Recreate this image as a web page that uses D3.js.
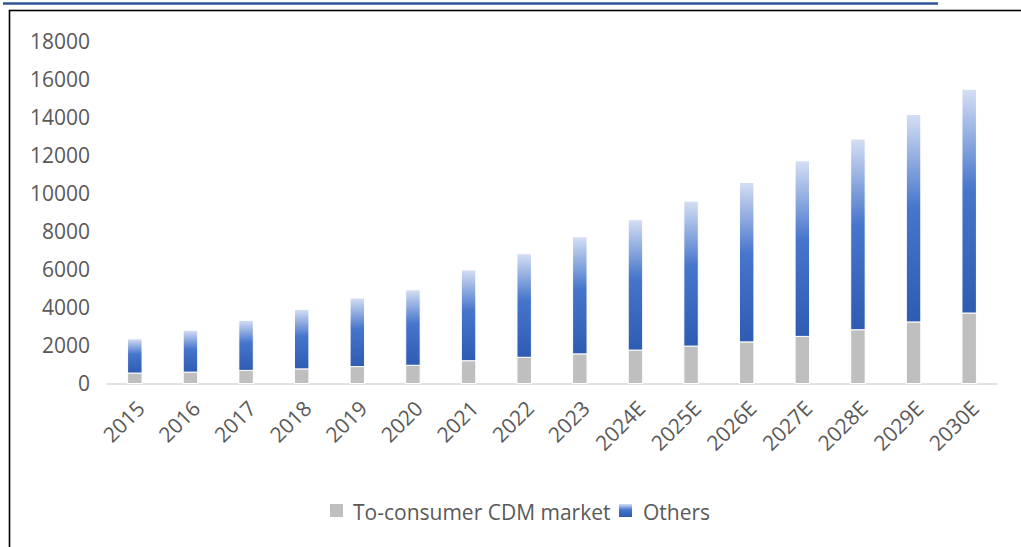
<!DOCTYPE html>
<html><head><meta charset="utf-8">
<script src="https://cdn.jsdelivr.net/npm/d3@7"></script>
<style>body{margin:0;background:#fff}svg{display:block}text{font-family:"Open Sans",Lato,sans-serif;fill:#595959}</style>
</head><body><svg id="c" width="1021" height="547"></svg>
<script>
const categories=["2015","2016","2017","2018","2019","2020","2021","2022","2023","2024E","2025E","2026E","2027E","2028E","2029E","2030E"];
const consumer=[550,600,690,770,890,960,1200,1380,1560,1760,1970,2190,2480,2830,3240,3710];
const totals=[2350,2800,3330,3900,4500,4930,5980,6830,7720,8620,9600,10580,11720,12870,14160,15490];
const others=totals.map((t,i)=>t-consumer[i]);
const yTicks=[0,2000,4000,6000,8000,10000,12000,14000,16000,18000];
const seriesNames=["To-consumer CDM market","Others"];

const svg=d3.select("#c");
const defs=svg.append("defs");
const g=defs.append("linearGradient").attr("id","blueGrad").attr("x1",0).attr("y1",0).attr("x2",0).attr("y2",1);
g.append("stop").attr("offset","0%").attr("stop-color","#d5dff3");
g.append("stop").attr("offset","45%").attr("stop-color","#4675cc");
g.append("stop").attr("offset","100%").attr("stop-color","#2f5cb3");

// title underline & frame
svg.append("line").attr("x1",3).attr("x2",938).attr("y1",3.5).attr("y2",3.5).attr("stroke","#2f5597").attr("stroke-width",2.5);
svg.append("rect").attr("x",9.5).attr("y",10.5).attr("width",1100).attr("height",700).attr("fill","none").attr("stroke","#000").attr("stroke-width",1.6);

const x=d3.scaleBand().domain(categories).range([107,997]).padding(0);
const y=d3.scaleLinear().domain([0,18000]).range([383.5,41.5]);
const bw=x.bandwidth()*0.26;
const fs=21;

// y labels
svg.append("g").selectAll("text").data(yTicks).join("text")
 .attr("x",90).attr("y",d=>y(d)).attr("dy","0.36em").attr("text-anchor","end")
 .attr("font-size",fs).text(d=>d);

// baseline
svg.append("line").attr("x1",107).attr("x2",997).attr("y1",y(0)+0.5).attr("y2",y(0)+0.5).attr("stroke","#d9d9d9").attr("stroke-width",1.5);

const cx=d=>x(d)+x.bandwidth()/2;
svg.append("g").selectAll("rect").data(categories).join("rect")
 .attr("x",d=>cx(d)-bw/2).attr("width",bw)
 .attr("y",(d,i)=>y(consumer[i])).attr("height",(d,i)=>y(0)-y(consumer[i]))
 .attr("fill","#bfbfbf").attr("stroke","#fff").attr("stroke-width",1);
svg.append("g").selectAll("rect").data(categories).join("rect")
 .attr("x",d=>cx(d)-bw/2).attr("width",bw)
 .attr("y",(d,i)=>y(totals[i])).attr("height",(d,i)=>y(consumer[i])-y(totals[i]))
 .attr("fill","url(#blueGrad)").attr("stroke","#fff").attr("stroke-width",1);

// x labels
svg.append("g").selectAll("text").data(categories).join("text")
 .attr("transform",d=>`translate(${cx(d)+1},${y(0)+16}) rotate(-45)`)
 .attr("text-anchor","end").attr("dy","0.7em").attr("font-size",fs).text(d=>d);

// legend
const leg=svg.append("g");
leg.append("rect").attr("x",330).attr("y",504).attr("width",13).attr("height",13).attr("fill","#bfbfbf");
leg.append("text").attr("x",353).attr("y",512).attr("dy","0.36em").attr("font-size",fs).text(seriesNames[0]);
leg.append("rect").attr("x",619).attr("y",504).attr("width",13).attr("height",13).attr("fill","url(#blueGrad)");
leg.append("text").attr("x",643).attr("y",512).attr("dy","0.36em").attr("font-size",fs).text(seriesNames[1]);
</script></body></html>
